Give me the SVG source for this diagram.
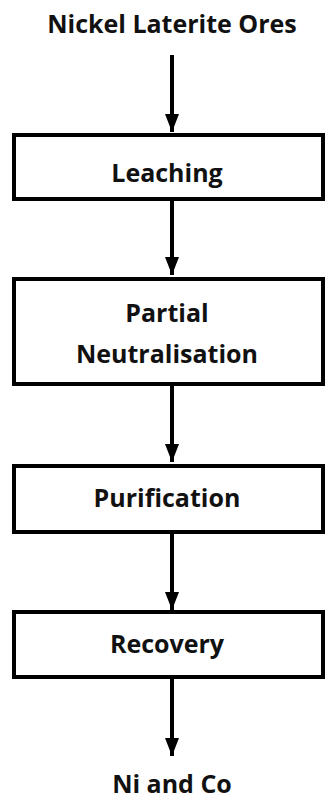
<svg xmlns="http://www.w3.org/2000/svg" width="328" height="808" viewBox="0 0 328 808">
<style>
.t{font-family:"Open Sans","Liberation Sans",sans-serif;font-weight:700;font-size:25px;fill:#111;text-anchor:middle}
.b{fill:#fff;stroke:#000;stroke-width:4}
.c{stroke:#000;stroke-width:4;fill:none}
</style>
<defs>
<marker id="ah" markerUnits="userSpaceOnUse" markerWidth="18" markerHeight="14" refX="18" refY="7" orient="auto">
<path d="M0,0 L18,7 L0,14 Z" fill="#000"/>
</marker>
</defs>
<rect width="328" height="808" fill="#fff"/>
<g id="connectors">
<line class="c" x1="172" y1="55" x2="172" y2="132" marker-end="url(#ah)"/>
<line class="c" x1="172" y1="199" x2="172" y2="275" marker-end="url(#ah)"/>
<line class="c" x1="172" y1="384" x2="172" y2="462" marker-end="url(#ah)"/>
<line class="c" x1="172" y1="533" x2="172" y2="610" marker-end="url(#ah)"/>
<line class="c" x1="172" y1="677" x2="172" y2="756" marker-end="url(#ah)"/>
</g>
<g id="n0"><text class="t" x="172" y="33">Nickel Laterite Ores</text></g>
<g id="n1"><rect class="b" x="14" y="135" width="309" height="64"/><text class="t" x="167" y="182">Leaching</text></g>
<g id="n2"><rect class="b" x="14" y="279" width="309" height="105"/><text class="t" x="167" y="322">Partial</text><text class="t" x="167" y="363">Neutralisation</text></g>
<g id="n3"><rect class="b" x="14" y="466" width="309" height="66"/><text class="t" x="167" y="507">Purification</text></g>
<g id="n4"><rect class="b" x="14" y="612" width="309" height="65"/><text class="t" x="167" y="653">Recovery</text></g>
<g id="n5"><text class="t" x="172" y="793">Ni and Co</text></g>
</svg>
